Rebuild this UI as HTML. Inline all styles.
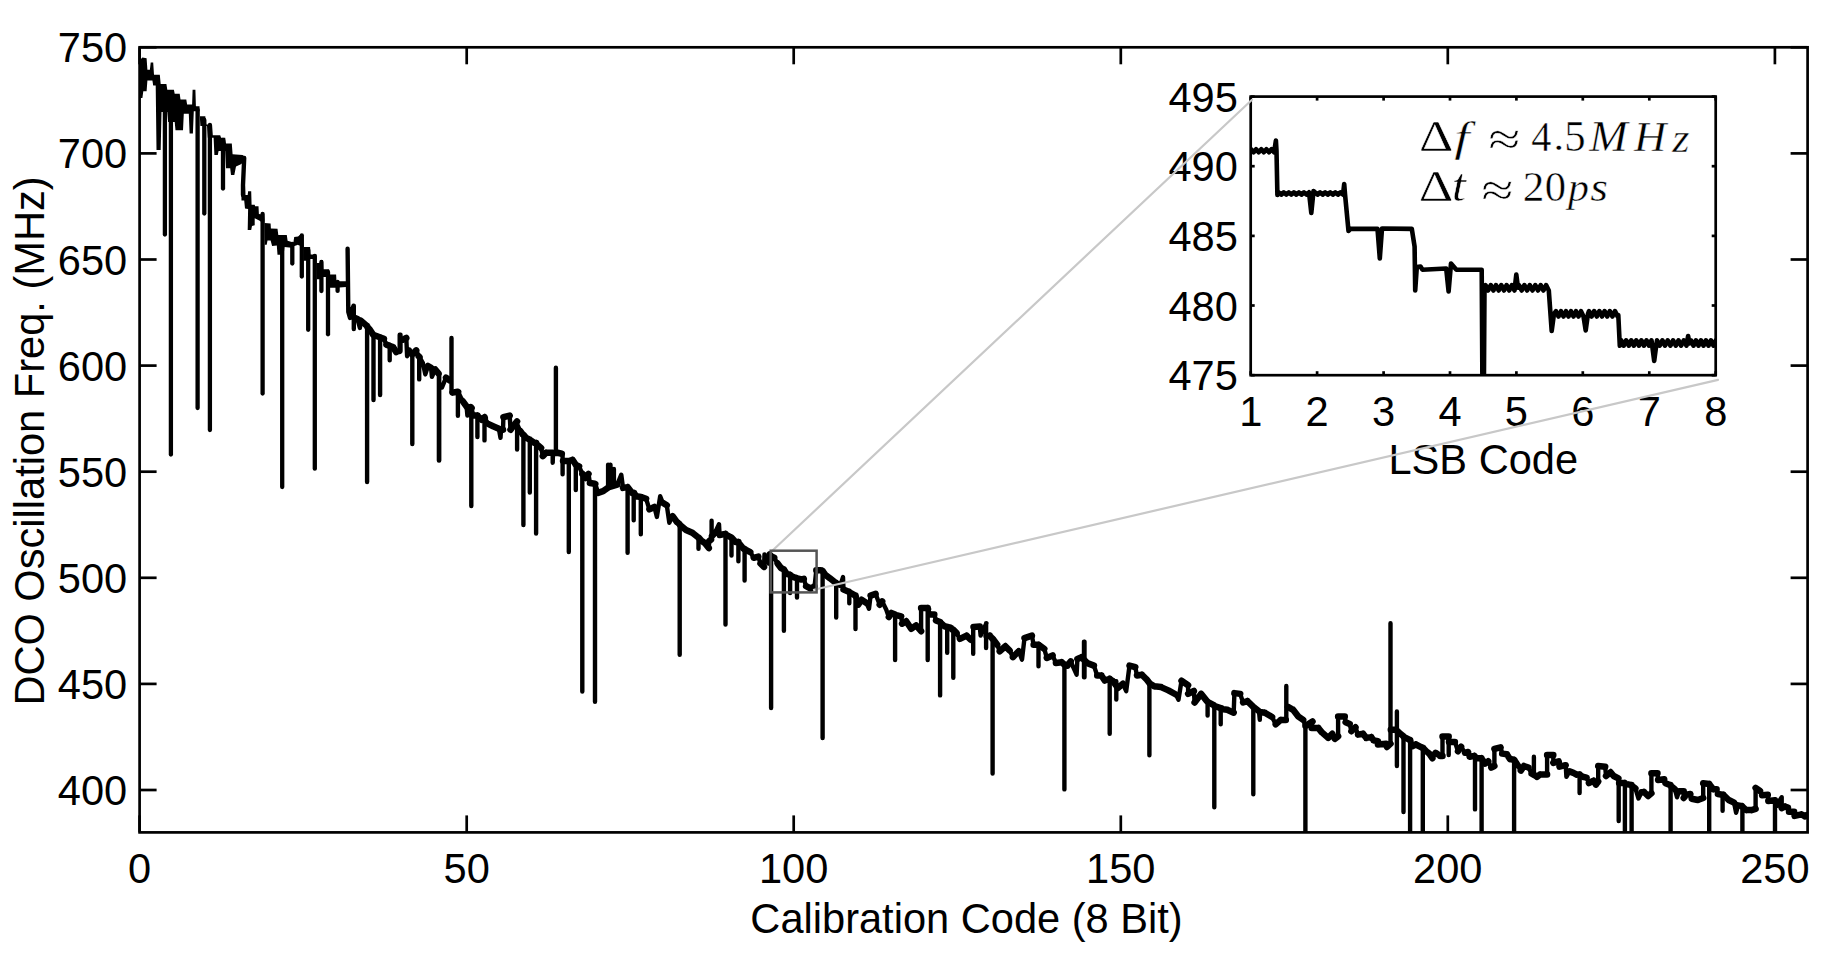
<!DOCTYPE html><html><head><meta charset="utf-8"><style>html,body{margin:0;padding:0;background:#fff;overflow:hidden}svg{display:block}</style></head><body>
<svg width="1842" height="967" viewBox="0 0 1842 967">
<rect width="1842" height="967" fill="#fff"/>
<defs><clipPath id="cm"><rect x="139.6" y="47.3" width="1668.0" height="785.1"/></clipPath></defs>
<path clip-path="url(#cm)" fill="none" stroke="#000" stroke-width="6.50" stroke-linecap="round" d=""/>
<path clip-path="url(#cm)" fill="none" stroke="#000" stroke-width="6.50" stroke-linecap="round" d="M355.0 318.0L357.4 319.0M360.8 320.6L366.6 325.6M366.6 325.6L367.1 326.0M367.1 326.0L367.4 327.0M367.4 327.0L369.9 329.7M369.9 329.7L373.2 334.7M373.2 334.7L373.8 335.0M373.8 335.0L379.8 337.2M379.8 337.2L380.4 337.5M380.4 337.5L383.9 338.8M386.4 344.6L390.0 346.0M390.0 346.0L393.0 347.1M393.0 347.1L396.3 352.1M403.0 339.7L406.3 338.0M412.1 354.5L412.6 354.0M412.6 354.0L416.2 350.4M418.7 356.2L419.5 357.0M428.0 366.0L431.1 367.8M435.2 369.4L438.5 373.6M446.0 377.7L449.3 380.2M452.6 392.6L457.6 391.8M457.6 391.8L458.2 392.0M462.5 400.9L466.6 406.5M468.0 407.0L470.8 407.3M470.8 407.3L471.6 408.0M473.2 415.6L477.4 415.6M477.4 415.6L477.7 416.0M477.7 416.0L481.5 419.7M481.5 419.7L484.5 417.2M484.5 417.2L484.8 418.0M488.1 423.9L493.1 426.3M493.1 426.3L498.9 428.8M501.0 430.0L503.0 429.7M503.4 417.2L509.7 415.6M510.5 429.7L513.0 426.3M513.0 426.3L517.1 421.4M520.4 431.3L522.9 434.6M522.9 434.6L523.7 435.0M523.7 435.0L526.2 437.9M526.2 437.9L529.8 439.6M529.8 439.6L530.1 440.0M530.1 440.0L534.5 442.9M534.5 442.9L536.1 443.0M536.1 443.0L536.4 444.0M536.4 444.0L541.1 447.9M542.8 456.1L546.1 452.8M546.1 452.8L552.7 452.8M553.0 453.0L555.9 453.0M555.9 453.0L556.2 453.0M556.2 453.0L557.6 452.8M557.6 452.8L561.8 453.7M563.0 461.0L565.9 461.1M565.9 461.1L568.7 461.0M568.7 461.0L569.1 461.0M569.1 461.0L572.5 459.8M572.5 459.8L575.8 464.8M575.8 464.8L576.1 465.0M576.1 465.0L579.1 466.4M582.3 473.9L582.6 474.0M582.6 474.0L585.7 478.0M585.7 478.0L588.5 473.9M589.9 483.0L594.8 483.8M594.8 483.8L595.3 484.0M598.1 492.9L603.1 491.2M603.1 491.2L608.9 487.1M608.9 487.1L617.2 484.6M623.0 487.9L627.6 487.1M627.6 487.1L627.9 487.5M627.9 487.5L632.1 492.9M632.1 492.9L634.0 493.0M634.0 493.0L636.2 496.2M636.2 496.2L641.0 497.0M641.0 497.0L641.2 497.0M641.2 497.0L646.1 498.7M649.4 509.4L654.4 507.0M662.7 502.8L666.8 505.3M672.6 516.1L676.8 521.9M676.8 521.9L679.4 524.0M679.4 524.0L680.0 525.0M680.0 525.0L686.0 530.0M686.0 530.0L692.3 532.8M692.3 532.8L698.0 537.3M698.0 537.3L699.0 538.0M699.0 538.0L701.4 540.7M701.4 540.7L704.8 543.0M704.8 543.0L708.8 548.1M709.2 541.0L711.0 539.6M712.0 536.0L715.0 532.8M719.6 535.0L725.3 533.9M725.3 533.9L725.5 533.9M725.5 533.9L725.8 534.5M725.8 534.5L731.0 537.3M731.0 537.3L731.9 538.0M731.9 538.0L735.5 541.9M735.5 541.9L738.4 542.0M738.4 542.0L738.8 543.0M738.8 543.0L743.5 548.7M743.5 548.7L744.6 549.0M744.6 549.0L745.0 549.5M745.0 549.5L750.3 552.1M753.7 557.8L758.3 556.6M760.5 563.5L764.0 566.9M769.6 554.4L771.1 556.0M771.1 556.0L771.4 556.5M771.4 556.5L774.2 557.8M777.6 563.5L781.0 568.0M781.0 568.0L783.3 569.2M783.3 569.2L783.9 569.5M783.9 569.5L784.2 570.0M784.2 570.0L786.7 573.7M786.7 573.7L790.1 574.9M790.1 574.9L790.4 575.5M790.4 575.5L793.5 577.1M793.5 577.1L797.0 578.3M797.0 578.3L797.3 578.5M797.3 578.5L801.5 579.5M801.5 579.5L803.8 578.8M806.1 586.2L810.6 588.5M810.6 588.5L814.6 586.2M816.3 570.3L820.8 570.3M820.8 570.3L822.6 571.0M822.6 571.0L822.9 571.5M822.9 571.5L825.4 574.9M825.4 574.9L830.0 578.3M830.0 578.3L835.6 582.8M835.6 582.8L836.2 583.0M836.2 583.0L836.5 583.5M836.5 583.5L840.5 585.0M843.5 589.6L849.3 591.9M849.3 591.9L849.6 592.5M849.6 592.5L855.0 595.3M855.0 595.3L855.5 595.5M855.5 595.5L855.8 596.5M858.2 604.7L861.5 599.7M861.5 599.7L866.5 603.0M870.6 595.6L875.6 593.9M879.7 604.7L882.2 601.4M888.8 617.1L891.3 613.0M891.3 613.0L895.1 614.6M895.1 614.6L895.4 615.0M895.4 615.0L901.2 616.3M902.1 623.7L906.2 621.2M906.2 621.2L911.2 628.7M911.2 628.7L916.1 625.4M916.1 625.4L921.1 631.2M921.1 608.0L927.7 608.0M927.7 608.0L928.0 609.0M930.2 614.6L934.3 614.6M936.0 620.4L940.1 622.1M940.1 622.1L940.4 622.5M940.4 622.5L944.3 626.2M944.3 626.2L947.5 627.0M947.5 627.0L950.9 627.9M950.9 627.9L951.7 629.0M951.7 629.0L953.6 630.0M953.6 630.0L956.6 633.1M959.9 638.9L966.6 635.6M966.6 635.6L970.7 639.7M973.5 627.0L979.8 626.5M986.6 636.0L989.7 635.6M989.7 635.6L992.6 638.9M992.6 638.9L992.9 639.0M992.9 639.0L997.2 644.7M999.7 651.3L1005.4 646.3M1005.4 646.3L1009.6 650.5M1012.9 657.1L1018.7 651.3M1024.5 638.1L1031.9 635.6M1033.6 644.7L1038.5 644.7M1038.5 644.7L1038.8 645.0M1038.8 645.0L1044.3 648.8M1046.8 657.9L1052.6 655.4M1055.9 662.9L1061.7 662.3M1061.7 662.3L1064.3 664.5M1064.3 664.5L1064.6 664.5M1064.6 664.5L1067.4 665.6M1067.4 665.6L1070.8 661.4M1077.4 659.0L1081.5 657.3M1081.5 657.3L1087.3 663.1M1087.3 663.1L1093.9 665.6M1097.2 675.5L1101.4 675.5M1101.4 675.5L1104.7 680.5M1104.7 680.5L1109.7 678.8M1109.7 678.8L1110.0 679.0M1110.0 679.0L1113.0 681.3M1113.0 681.3L1117.9 687.9M1117.9 687.9L1122.9 683.8M1129.5 665.6L1135.3 667.2M1137.0 675.5L1141.9 674.7M1141.9 674.7L1146.9 679.7M1146.9 679.7L1149.4 683.0M1149.4 683.0L1149.7 683.5M1149.7 683.5L1154.3 686.3M1154.3 686.3L1161.0 687.1M1161.0 687.1L1168.4 690.4M1168.4 690.4L1175.9 694.5M1181.5 680.8L1188.1 685.2M1188.1 693.9L1193.9 691.0M1194.6 702.5L1201.1 693.9M1201.1 693.9L1206.9 701.1M1206.9 701.1L1208.0 702.0M1208.0 702.0L1214.1 705.4M1214.1 705.4L1214.6 706.0M1214.6 706.0L1221.4 708.3M1221.4 708.3L1221.5 709.0M1221.5 709.0L1227.2 709.8M1227.2 709.8L1233.7 712.7M1234.4 693.1L1240.2 693.9M1243.1 702.5L1247.4 701.1M1247.4 701.1L1251.8 705.4M1251.8 705.4L1253.3 706.9M1253.3 706.9L1253.6 707.0M1253.6 707.0L1259.0 711.2M1260.0 712.0L1264.8 712.7M1264.8 712.7L1272.1 717.0M1275.7 724.3L1280.8 719.9M1280.8 719.9L1285.8 719.9M1288.0 706.9L1293.1 709.8M1293.1 709.8L1298.1 716.3M1298.1 716.3L1303.2 719.9M1305.4 725.7L1305.7 725.7M1305.7 725.7L1312.5 721.4M1311.7 728.0L1318.3 728.0M1318.3 728.0L1321.6 732.1M1321.6 732.1L1328.2 737.9M1328.2 737.9L1332.3 733.8M1334.8 738.8L1338.1 736.3M1338.1 716.4L1344.8 716.4M1345.6 722.2L1349.7 723.9M1351.4 731.3L1355.5 727.2M1358.0 734.6L1363.0 733.8M1363.0 733.8L1366.3 737.9M1366.3 737.9L1371.2 737.1M1371.2 737.1L1373.7 740.4M1373.7 740.4L1377.9 741.2M1377.9 744.5L1386.1 743.7M1387.0 747.0L1390.5 743.7M1390.8 729.7L1396.1 729.7M1396.1 729.7L1397.2 731.0M1397.2 731.0L1399.4 733.0M1399.4 733.0L1403.5 736.3M1403.5 736.3L1403.8 737.0M1403.8 737.0L1409.3 739.6M1409.3 739.6L1410.1 740.0M1410.1 740.0L1410.4 741.0M1412.6 746.2L1415.9 744.5M1415.9 744.5L1422.5 747.9M1422.5 747.9L1422.8 748.0M1422.8 748.0L1423.1 748.0M1423.1 748.0L1426.2 751.2M1426.2 751.2L1429.3 753.6M1429.3 753.6L1432.4 758.2M1435.5 752.8L1440.2 755.9M1440.2 755.9L1442.5 755.9M1442.5 736.5L1448.7 736.5M1449.0 742.0L1451.0 741.9M1451.0 741.9L1454.9 741.9M1458.0 751.2L1461.1 746.6M1465.0 752.8L1468.1 752.0M1469.6 756.7L1474.3 755.9M1474.3 755.9L1475.3 757.0M1475.3 757.0L1477.4 758.2M1477.4 758.2L1481.4 758.2M1481.4 758.2L1481.8 759.0M1481.8 759.0L1485.1 763.6M1485.1 763.6L1488.2 761.3M1491.3 767.5L1494.4 766.0M1494.4 748.9L1500.6 747.4M1502.2 753.6L1506.8 754.3M1506.8 754.3L1509.9 759.0M1509.9 759.0L1513.8 759.8M1513.8 759.8L1514.3 760.0M1514.3 760.0L1517.7 765.2M1520.8 770.6L1523.9 766.0M1523.9 766.0L1528.5 767.5M1531.6 773.7L1534.2 775.0M1534.2 775.0L1537.0 776.8M1537.0 776.8L1540.1 774.5M1540.1 774.5L1547.1 774.5M1547.1 755.1L1553.3 755.1M1553.3 762.9L1558.7 761.3M1559.5 766.7L1565.7 765.2M1569.5 771.4L1573.4 772.9M1573.4 772.9L1576.5 774.5M1576.5 774.5L1579.6 774.5M1579.6 774.5L1579.9 775.0M1579.9 775.0L1582.7 776.8M1582.7 776.8L1586.6 777.6M1588.9 783.0L1593.6 780.7M1593.6 780.7L1595.9 784.6M1595.9 784.6L1598.2 781.5M1598.2 766.0L1605.2 766.7M1606.0 776.0L1610.6 772.2M1610.6 772.2L1613.7 776.0M1613.7 776.0L1618.4 778.4M1619.1 783.0L1624.6 783.0M1624.6 783.0L1625.2 784.0M1625.2 784.0L1629.2 784.6M1629.2 784.6L1631.6 785.0M1631.6 785.0L1631.9 786.0M1631.9 786.0L1635.4 788.4M1641.6 792.3L1644.0 792.0M1644.0 792.0L1648.1 796.0M1648.1 796.0L1651.4 793.3M1651.4 773.2L1657.5 773.2M1658.1 779.9L1664.2 779.2M1665.5 783.2L1670.6 785.2M1670.6 785.2L1670.9 786.0M1670.9 786.0L1674.9 789.3M1679.0 791.3L1683.7 791.3M1683.7 798.0L1686.4 794.7M1686.4 794.7L1690.4 794.0M1691.7 798.7L1697.8 800.0M1697.8 800.0L1703.2 798.0M1703.2 783.2L1709.2 783.9M1709.2 783.9L1709.5 784.5M1709.5 784.5L1713.2 789.3M1713.2 789.3L1716.6 789.3M1717.9 794.0L1722.6 794.7M1722.6 794.7L1723.3 794.7M1723.3 794.7L1728.7 800.0M1728.7 800.0L1734.1 802.7M1738.1 805.4L1742.1 806.1M1742.1 806.1L1742.4 806.5M1742.4 806.5L1742.7 807.0M1742.7 807.0L1746.2 810.1M1746.2 810.1L1751.5 810.1M1751.5 810.1L1755.6 808.8M1755.6 787.9L1760.0 791.0M1762.1 795.2L1767.8 794.7M1768.3 800.9L1775.0 800.3M1775.0 800.3L1775.3 801.0M1775.3 801.0L1777.1 804.5M1781.7 808.1L1784.8 806.5M1784.8 806.5L1787.9 807.6M1789.0 811.7L1794.1 811.7M1794.6 815.9L1801.4 814.3M1801.4 814.3L1805.0 816.4M1805.0 816.4L1806.5 815.3M1806.5 815.3L1808.0 815.5"/>
<polyline clip-path="url(#cm)" fill="none" stroke="#000" stroke-width="4.4" stroke-linejoin="round" stroke-linecap="round" points="244.2,158.0 243.0,185.0 243.0,195.0"/>
<polyline clip-path="url(#cm)" fill="none" stroke="#000" stroke-width="4.4" stroke-linejoin="round" stroke-linecap="round" points="347.6,248.7 348.3,312.0 350.0,318.0 351.0,312.0 353.6,305.7 353.8,305.7 353.8,329.0 353.8,318.0 355.0,318.0 357.4,319.0 359.9,328.0 360.8,320.6 366.6,325.6 367.1,326.0 367.1,326.0 367.1,482.0 367.1,327.0 367.4,327.0 369.9,329.7 373.2,334.7 373.5,334.7 373.5,400.0 373.5,335.0 373.8,335.0 379.8,337.2 380.1,337.2 380.1,395.1 380.1,337.5 380.4,337.5 383.9,338.8 386.4,344.6 389.7,344.6 389.7,360.3 389.7,346.0 390.0,346.0 393.0,347.1 396.3,352.1 399.7,352.1 399.7,334.7 399.7,351.2 400.5,334.7 400.5,351.2 400.5,339.7 403.0,339.7 406.3,338.0 407.1,356.2 409.6,349.6 412.1,354.5 412.3,354.5 412.3,444.0 412.3,354.0 412.6,354.0 416.2,350.4 418.7,356.2 419.2,356.2 419.2,379.4 419.2,357.0 419.5,357.0 422.8,362.8 425.3,374.4 428.0,366.0 431.1,367.8 431.9,376.9 435.2,369.4 438.5,373.6 438.9,373.6 438.9,460.6 438.9,374.0 439.2,460.6 439.2,374.0 439.2,387.6 441.9,387.6 446.0,377.7 449.3,380.2 451.5,380.2 451.5,338.0 451.5,392.6 452.6,392.6 457.6,391.8 457.9,391.8 457.9,415.8 457.9,392.0 458.2,392.0 462.5,400.9 466.6,406.5 467.4,415.6 468.0,407.0 470.8,407.3 471.3,407.3 471.3,506.0 471.3,408.0 471.6,408.0 473.2,415.6 477.4,415.6 477.4,415.6 477.4,437.1 477.4,416.0 477.7,416.0 481.5,419.7 484.5,417.2 484.5,417.2 484.5,440.4 484.5,418.0 484.8,418.0 488.1,423.9 493.1,426.3 498.9,428.8 500.5,437.9 501.0,430.0 503.0,429.7 503.4,417.2 509.7,415.6 510.5,429.7 513.0,426.3 517.1,421.4 517.1,421.4 517.1,449.5 517.1,425.0 517.5,425.0 520.4,431.3 522.9,434.6 523.4,434.6 523.4,525.0 523.4,435.0 523.7,435.0 526.2,437.9 529.8,439.6 529.8,439.6 529.8,492.5 529.8,440.0 530.1,440.0 534.5,442.9 536.1,443.0 536.1,443.0 536.1,533.5 536.1,444.0 536.4,444.0 541.1,447.9 542.8,456.1 546.1,452.8 552.7,452.8 552.7,462.8 553.0,453.0 555.9,453.0 555.9,453.0 555.9,367.8 555.9,453.0 556.2,453.0 557.6,452.8 561.8,453.7 562.6,453.7 562.6,474.3 562.6,461.0 563.0,461.0 565.9,461.1 568.7,461.0 568.8,461.0 568.8,552.0 568.8,461.0 569.1,461.0 572.5,459.8 575.8,464.8 575.8,464.8 575.8,490.0 575.8,465.0 576.1,465.0 579.1,466.4 582.3,473.9 582.3,473.9 582.3,691.5 582.3,474.0 582.6,474.0 585.7,478.0 588.5,473.9 589.9,483.0 594.8,483.8 595.0,483.8 595.0,701.7 595.0,484.0 595.3,484.0 598.1,492.9 603.1,491.2 608.9,487.1 608.1,487.1 608.1,464.8 608.1,483.0 610.5,464.8 610.5,483.0 610.5,468.9 613.9,483.0 613.9,468.9 613.9,484.6 617.2,484.6 621.3,474.7 623.0,487.9 627.6,487.1 627.6,487.1 627.6,552.8 627.6,487.5 627.9,487.5 632.1,492.9 633.7,492.9 633.7,520.2 633.7,493.0 634.0,493.0 636.2,496.2 641.0,497.0 640.8,497.0 640.8,534.3 640.8,497.0 641.2,497.0 646.1,498.7 649.4,509.4 654.4,507.0 656.9,516.9 660.2,496.2 662.7,502.8 666.8,505.3 669.3,522.7 672.6,516.1 676.8,521.9 679.4,524.0 679.7,524.0 679.7,654.8 679.7,525.0 680.0,525.0 686.0,530.0 692.3,532.8 698.0,537.3 698.5,537.3 698.5,548.7 698.5,538.0 699.0,538.0 701.4,540.7 704.8,543.0 708.8,548.1 709.2,541.0 711.0,539.6 711.6,539.6 711.6,520.8 711.6,536.0 712.0,536.0 715.0,532.8 719.0,524.2 719.6,535.0 725.3,533.9 725.5,533.9 725.5,533.9 725.5,624.5 725.5,534.5 725.8,534.5 731.0,537.3 731.5,537.3 731.5,555.5 731.5,538.0 731.9,538.0 735.5,541.9 738.4,542.0 738.4,542.0 738.4,561.2 738.4,543.0 738.8,543.0 743.5,548.7 744.6,549.0 744.6,549.0 744.6,580.5 744.6,549.5 745.0,549.5 750.3,552.1 753.7,557.8 758.3,556.6 760.5,563.5 764.0,566.9 764.5,554.4 768.5,563.5 769.6,554.4 771.1,556.0 771.1,556.0 771.1,708.0 771.1,556.5 771.4,556.5 774.2,557.8 777.6,563.5 781.0,568.0 783.3,569.2 783.9,569.5 783.9,569.5 783.9,630.7 783.9,570.0 784.2,570.0 786.7,573.7 790.1,574.9 790.1,574.9 790.1,593.0 790.1,575.5 790.4,575.5 793.5,577.1 797.0,578.3 797.0,578.3 797.0,597.6 797.0,578.5 797.3,578.5 801.5,579.5 803.8,578.8 806.1,586.2 810.6,588.5 814.6,586.2 816.3,570.3 820.8,570.3 822.6,571.0 822.6,571.0 822.6,738.0 822.6,571.5 822.9,571.5 825.4,574.9 830.0,578.3 835.6,582.8 836.2,583.0 836.2,583.0 836.2,617.5 836.2,583.5 836.5,583.5 840.5,585.0 843.0,577.1 843.5,589.6 849.3,591.9 849.3,591.9 849.3,603.3 849.3,592.5 849.6,592.5 855.0,595.3 855.5,595.5 855.5,595.5 855.5,629.0 855.5,596.5 855.8,596.5 858.2,604.7 861.5,599.7 866.5,603.0 869.0,608.8 870.6,595.6 875.6,593.9 879.7,604.7 882.2,601.4 886.3,609.7 888.8,617.1 891.3,613.0 895.1,614.6 895.1,614.6 895.1,660.1 895.1,615.0 895.4,615.0 901.2,616.3 902.1,623.7 906.2,621.2 911.2,628.7 916.1,625.4 921.1,631.2 921.1,608.0 927.7,608.0 927.7,608.0 927.7,660.1 927.7,609.0 928.0,609.0 930.2,614.6 934.3,614.6 936.0,620.4 940.1,622.1 940.1,622.1 940.1,695.4 940.1,622.5 940.4,622.5 944.3,626.2 947.2,626.2 947.2,652.7 947.2,627.0 947.5,627.0 950.9,627.9 951.7,629.0 953.3,629.0 953.3,677.8 953.3,630.0 953.6,630.0 956.6,633.1 959.9,638.9 966.6,635.6 970.7,639.7 973.2,639.7 973.2,626.5 973.2,653.8 973.2,626.5 973.2,653.8 973.2,627.0 973.5,627.0 979.8,626.5 980.6,635.6 986.4,623.2 986.1,623.2 986.1,648.0 986.1,636.0 986.6,636.0 989.7,635.6 992.6,638.9 992.6,638.9 992.6,773.5 992.6,639.0 992.9,639.0 997.2,644.7 999.7,651.3 1005.4,646.3 1009.6,650.5 1012.9,657.1 1018.7,651.3 1022.0,659.6 1024.5,638.1 1031.9,635.6 1033.6,644.7 1038.5,644.7 1038.5,644.7 1038.5,666.2 1038.5,645.0 1038.8,645.0 1044.3,648.8 1046.8,657.9 1052.6,655.4 1055.9,662.9 1061.7,662.3 1064.3,664.5 1064.4,664.5 1064.4,789.4 1064.4,664.5 1064.6,664.5 1067.4,665.6 1070.8,661.4 1073.2,667.2 1076.6,674.7 1077.4,659.0 1081.5,657.3 1084.5,657.3 1084.5,641.6 1084.5,677.2 1084.0,641.6 1084.0,677.2 1084.0,663.1 1087.3,663.1 1093.9,665.6 1097.2,675.5 1101.4,675.5 1104.7,680.5 1109.7,678.8 1109.7,678.8 1109.7,733.8 1109.7,679.0 1110.0,679.0 1113.0,681.3 1116.3,681.3 1116.3,699.5 1116.3,687.9 1117.9,687.9 1122.9,683.8 1126.2,691.2 1129.5,665.6 1135.3,667.2 1137.0,675.5 1141.9,674.7 1146.9,679.7 1149.4,683.0 1149.4,683.0 1149.4,755.3 1149.4,683.5 1149.7,683.5 1154.3,686.3 1161.0,687.1 1168.4,690.4 1175.9,694.5 1178.5,699.7 1181.5,680.8 1188.1,685.2 1188.1,693.9 1193.9,691.0 1194.6,702.5 1201.1,693.9 1206.9,701.1 1207.6,701.1 1207.6,715.6 1207.6,702.0 1208.0,702.0 1214.1,705.4 1214.3,705.4 1214.3,807.2 1214.3,706.0 1214.6,706.0 1221.4,708.3 1220.7,708.3 1220.7,724.3 1220.7,709.0 1221.5,709.0 1227.2,709.8 1233.7,712.7 1234.4,693.1 1240.2,693.9 1243.1,702.5 1247.4,701.1 1251.8,705.4 1253.3,706.9 1253.3,706.9 1253.3,794.2 1253.3,707.0 1253.6,707.0 1259.0,711.2 1259.8,719.9 1260.0,712.0 1264.8,712.7 1272.1,717.0 1275.7,724.3 1280.8,719.9 1285.8,719.9 1286.3,719.9 1286.3,685.9 1286.3,706.9 1288.0,706.9 1293.1,709.8 1298.1,716.3 1303.2,719.9 1305.4,725.7 1305.4,725.7 1305.4,845.0 1305.4,725.7 1305.7,725.7 1312.5,721.4 1311.7,728.0 1318.3,728.0 1321.6,732.1 1328.2,737.9 1332.3,733.8 1334.8,738.8 1338.1,736.3 1338.1,716.4 1344.8,716.4 1345.6,722.2 1349.7,723.9 1351.4,731.3 1355.5,727.2 1358.0,734.6 1363.0,733.8 1366.3,737.9 1371.2,737.1 1373.7,740.4 1377.9,741.2 1377.9,744.5 1386.1,743.7 1387.0,747.0 1390.5,743.7 1390.5,743.7 1390.5,623.3 1390.5,729.7 1390.8,729.7 1396.1,729.7 1396.9,729.7 1396.9,711.4 1396.9,766.1 1396.9,711.4 1396.9,766.1 1396.9,731.0 1397.2,731.0 1399.4,733.0 1403.5,736.3 1403.5,736.3 1403.5,812.0 1403.5,737.0 1403.8,737.0 1409.3,739.6 1410.1,740.0 1410.1,740.0 1410.1,845.0 1410.1,741.0 1410.4,741.0 1412.6,746.2 1415.9,744.5 1422.5,747.9 1422.8,748.0 1422.8,748.0 1422.8,845.0 1422.8,748.0 1423.1,748.0 1426.2,751.2 1429.3,753.6 1432.4,758.2 1435.5,752.8 1440.2,755.9 1442.5,755.9 1442.5,736.5 1448.7,736.5 1448.7,736.5 1448.7,755.1 1448.7,742.0 1449.0,742.0 1451.0,741.9 1454.9,741.9 1458.0,751.2 1461.1,746.6 1465.0,752.8 1468.1,752.0 1469.6,756.7 1474.3,755.9 1475.0,755.9 1475.0,809.4 1475.0,757.0 1475.3,757.0 1477.4,758.2 1481.4,758.2 1481.6,758.2 1481.6,845.0 1481.6,759.0 1481.8,759.0 1485.1,763.6 1488.2,761.3 1491.3,767.5 1494.4,766.0 1494.4,748.9 1500.6,747.4 1502.2,753.6 1506.8,754.3 1509.9,759.0 1513.8,759.8 1514.1,759.8 1514.1,845.0 1514.1,760.0 1514.3,760.0 1517.7,765.2 1520.8,770.6 1523.9,766.0 1528.5,767.5 1531.6,773.7 1533.9,773.7 1533.9,756.7 1533.9,775.0 1534.2,775.0 1537.0,776.8 1540.1,774.5 1547.1,774.5 1547.1,755.1 1553.3,755.1 1553.3,762.9 1558.7,761.3 1559.5,766.7 1565.7,765.2 1566.4,776.8 1569.5,771.4 1573.4,772.9 1576.5,774.5 1579.6,774.5 1579.6,774.5 1579.6,793.1 1579.6,775.0 1579.9,775.0 1582.7,776.8 1586.6,777.6 1588.9,783.0 1593.6,780.7 1595.9,784.6 1598.2,781.5 1598.2,766.0 1605.2,766.7 1606.0,776.0 1610.6,772.2 1613.7,776.0 1618.4,778.4 1618.7,778.4 1618.7,821.0 1618.7,783.0 1619.1,783.0 1624.6,783.0 1624.9,783.0 1624.9,845.0 1624.9,784.0 1625.2,784.0 1629.2,784.6 1631.6,785.0 1631.6,785.0 1631.6,845.0 1631.6,786.0 1631.9,786.0 1635.4,788.4 1638.5,798.5 1641.6,792.3 1644.0,792.0 1648.1,796.0 1651.4,793.3 1651.4,773.2 1657.5,773.2 1658.1,779.9 1664.2,779.2 1665.5,783.2 1670.6,785.2 1670.6,785.2 1670.6,845.0 1670.6,786.0 1670.9,786.0 1674.9,789.3 1677.0,797.3 1679.0,791.3 1683.7,791.3 1683.7,798.0 1686.4,794.7 1690.4,794.0 1691.7,798.7 1697.8,800.0 1703.2,798.0 1703.2,783.2 1709.2,783.9 1709.2,783.9 1709.2,845.0 1709.2,784.5 1709.5,784.5 1713.2,789.3 1716.6,789.3 1717.9,794.0 1722.6,794.7 1722.6,794.7 1722.6,810.8 1722.6,794.7 1723.3,794.7 1728.7,800.0 1734.1,802.7 1736.1,812.8 1738.1,805.4 1742.1,806.1 1742.4,806.5 1742.4,806.5 1742.4,845.0 1742.4,807.0 1742.7,807.0 1746.2,810.1 1751.5,810.1 1755.6,808.8 1755.6,787.9 1760.0,791.0 1762.1,795.2 1767.8,794.7 1768.3,800.9 1775.0,800.3 1775.0,800.3 1775.0,845.0 1775.0,801.0 1775.3,801.0 1777.1,804.5 1781.7,797.2 1781.7,808.1 1784.8,806.5 1787.9,807.6 1789.0,811.7 1794.1,811.7 1794.6,815.9 1801.4,814.3 1805.0,816.4 1806.5,815.3 1808.0,815.5"/>
<polygon clip-path="url(#cm)" fill="#000" points="140.0,59.9 142.4,57.4 146.6,58.2 147.4,69.8 149.9,69.8 150.7,62.4 153.2,62.4 154.0,74.8 159.8,74.8 160.7,83.9 166.4,83.9 167.3,89.7 173.9,89.7 174.7,93.8 179.7,93.8 180.5,99.6 186.3,99.6 187.1,104.6 192.1,104.6 192.6,89.7 195.4,89.7 195.9,106.2 199.5,106.2 200.0,116.2 205.3,116.2 206.2,124.4 212.0,124.4 212.8,135.2 220.2,135.2 221.1,137.7 225.2,137.7 226.0,143.5 231.8,143.5 232.6,154.2 242.6,155.0 245.1,156.7 245.1,160.9 240.9,164.2 236.0,166.6 234.3,174.9 231.0,174.9 230.2,168.3 226.0,168.3 225.2,150.9 218.6,150.9 217.8,155.1 214.4,155.1 213.6,137.7 207.8,137.7 207.0,126.1 200.4,126.1 199.5,111.2 193.8,111.2 192.9,133.5 189.6,133.5 188.8,113.7 183.8,113.7 183.0,130.2 175.5,130.2 174.7,122.0 168.1,122.0 167.3,112.0 161.5,112.0 160.7,150.1 156.5,150.1 155.7,85.5 153.2,85.5 152.4,80.6 147.4,80.6 146.6,91.3 143.3,91.3 142.4,98.0 140.0,98.0"/>
<polygon clip-path="url(#cm)" fill="#000" points="241.1,185.0 245.0,185.0 245.4,195.1 247.7,195.1 248.1,191.2 251.2,191.2 251.6,204.8 254.7,204.8 255.1,206.3 258.5,206.3 258.9,214.1 264.0,214.8 264.7,223.0 270.6,223.4 270.9,228.4 277.5,228.8 278.3,235.0 286.8,235.0 287.6,240.8 293.4,242.4 294.2,236.9 298.0,236.6 298.0,244.7 293.8,246.2 291.5,247.8 284.5,247.0 283.7,254.8 277.5,254.8 276.8,245.5 272.1,245.9 270.6,240.4 267.5,240.4 266.7,244.7 264.7,244.7 264.4,221.4 260.5,221.4 259.7,220.7 254.7,218.3 254.7,225.3 252.0,226.1 251.2,230.0 247.7,230.0 248.1,209.0 245.0,208.6 244.2,200.5 241.5,200.5"/>
<polygon clip-path="url(#cm)" fill="#000" points="298.0,236.6 301.0,234.0 303.0,236.0 303.5,246.0 304.0,247.1 310.1,247.1 310.6,254.5 316.3,254.5 316.5,263.0 319.8,263.0 320.0,259.9 323.0,259.9 323.4,269.2 329.1,269.2 329.5,274.6 336.1,274.6 336.5,281.2 346.2,281.2 346.2,287.0 336.1,287.8 329.9,287.8 329.5,277.0 322.9,277.0 322.6,279.3 317.0,279.3 316.5,259.1 310.1,259.1 309.8,260.7 303.5,260.7 303.5,246.5 301.0,246.0 298.0,245.0"/>
<g clip-path="url(#cm)" stroke="#000" stroke-width="4.3" stroke-linecap="round">
<line x1="164.9" y1="100.0" x2="164.9" y2="234.5"/>
<line x1="170.9" y1="100.0" x2="170.9" y2="454.5"/>
<line x1="197.6" y1="110.0" x2="197.6" y2="408.0"/>
<line x1="204.3" y1="120.0" x2="204.3" y2="213.5"/>
<line x1="209.9" y1="125.0" x2="209.9" y2="430.0"/>
<line x1="223.0" y1="140.0" x2="223.0" y2="188.5"/>
<line x1="262.6" y1="214.0" x2="262.6" y2="393.5"/>
<line x1="282.2" y1="240.0" x2="282.2" y2="487.0"/>
<line x1="292.3" y1="244.0" x2="292.3" y2="263.5"/>
<line x1="301.8" y1="235.5" x2="301.8" y2="276.5"/>
<line x1="308.2" y1="250.0" x2="308.2" y2="329.8"/>
<line x1="314.8" y1="256.0" x2="314.8" y2="468.7"/>
<line x1="321.4" y1="262.0" x2="321.4" y2="291.0"/>
<line x1="328.0" y1="272.0" x2="328.0" y2="334.3"/>
<line x1="337.6" y1="282.0" x2="337.6" y2="290.9"/>
</g>
<g stroke="#000" stroke-width="2.7" fill="none">
<rect x="139.6" y="47.3" width="1668.0" height="785.1"/>
<line x1="139.6" y1="832.4" x2="139.6" y2="815.4"/>
<line x1="139.6" y1="47.3" x2="139.6" y2="64.3"/>
<line x1="466.7" y1="832.4" x2="466.7" y2="815.4"/>
<line x1="466.7" y1="47.3" x2="466.7" y2="64.3"/>
<line x1="793.7" y1="832.4" x2="793.7" y2="815.4"/>
<line x1="793.7" y1="47.3" x2="793.7" y2="64.3"/>
<line x1="1120.8" y1="832.4" x2="1120.8" y2="815.4"/>
<line x1="1120.8" y1="47.3" x2="1120.8" y2="64.3"/>
<line x1="1447.8" y1="832.4" x2="1447.8" y2="815.4"/>
<line x1="1447.8" y1="47.3" x2="1447.8" y2="64.3"/>
<line x1="1774.9" y1="832.4" x2="1774.9" y2="815.4"/>
<line x1="1774.9" y1="47.3" x2="1774.9" y2="64.3"/>
<line x1="139.6" y1="790.0" x2="156.6" y2="790.0"/>
<line x1="1807.6" y1="790.0" x2="1790.6" y2="790.0"/>
<line x1="139.6" y1="683.9" x2="156.6" y2="683.9"/>
<line x1="1807.6" y1="683.9" x2="1790.6" y2="683.9"/>
<line x1="139.6" y1="577.8" x2="156.6" y2="577.8"/>
<line x1="1807.6" y1="577.8" x2="1790.6" y2="577.8"/>
<line x1="139.6" y1="471.7" x2="156.6" y2="471.7"/>
<line x1="1807.6" y1="471.7" x2="1790.6" y2="471.7"/>
<line x1="139.6" y1="365.6" x2="156.6" y2="365.6"/>
<line x1="1807.6" y1="365.6" x2="1790.6" y2="365.6"/>
<line x1="139.6" y1="259.5" x2="156.6" y2="259.5"/>
<line x1="1807.6" y1="259.5" x2="1790.6" y2="259.5"/>
<line x1="139.6" y1="153.4" x2="156.6" y2="153.4"/>
<line x1="1807.6" y1="153.4" x2="1790.6" y2="153.4"/>
<line x1="139.6" y1="47.3" x2="156.6" y2="47.3"/>
<line x1="1807.6" y1="47.3" x2="1790.6" y2="47.3"/>
</g>
<g font-family="Liberation Sans" font-size="41.6" fill="#000">
<text x="139.6" y="883" text-anchor="middle">0</text>
<text x="466.7" y="883" text-anchor="middle">50</text>
<text x="793.7" y="883" text-anchor="middle">100</text>
<text x="1120.8" y="883" text-anchor="middle">150</text>
<text x="1447.8" y="883" text-anchor="middle">200</text>
<text x="1774.9" y="883" text-anchor="middle">250</text>
<text x="127.2" y="805.0" text-anchor="end">400</text>
<text x="127.2" y="698.9" text-anchor="end">450</text>
<text x="127.2" y="592.8" text-anchor="end">500</text>
<text x="127.2" y="486.7" text-anchor="end">550</text>
<text x="127.2" y="380.6" text-anchor="end">600</text>
<text x="127.2" y="274.5" text-anchor="end">650</text>
<text x="127.2" y="168.4" text-anchor="end">700</text>
<text x="127.2" y="62.3" text-anchor="end">750</text>
<text x="966.5" y="933" text-anchor="middle">Calibration Code (8 Bit)</text>
<text transform="translate(44.3,441.0) rotate(-90)" text-anchor="middle">DCO Oscillation Freq. (MHz)</text>
</g>
<rect x="1250.7" y="96.6" width="465.0" height="278.6" fill="#fff"/>
<defs><clipPath id="ci"><rect x="1250.7" y="96.6" width="465.0" height="278.6"/></clipPath></defs>
<polyline clip-path="url(#ci)" fill="none" stroke="#000" stroke-width="4.6" stroke-linejoin="round" stroke-linecap="round" points="1251.0,149.2 1253.6,152.2 1256.1,149.2 1258.7,152.2 1261.3,149.2 1263.8,152.2 1266.4,149.2 1269.0,152.2 1271.5,149.2 1274.1,152.2 1275.9,140.5 1276.5,151.0 1277.4,195.0 1278.7,192.3 1281.2,194.7 1283.8,192.3 1286.3,194.7 1288.8,192.3 1291.3,194.7 1293.8,192.3 1296.4,194.7 1298.9,192.3 1301.4,194.7 1304.0,192.3 1306.5,194.7 1309.0,192.3 1311.3,213.0 1313.5,191.0 1315.0,192.3 1317.5,194.7 1320.1,192.3 1322.6,194.7 1325.2,192.3 1327.7,194.7 1330.3,192.3 1332.8,194.7 1335.4,192.3 1337.9,194.7 1340.5,192.3 1343.0,194.7 1344.2,184.0 1345.0,194.0 1348.5,231.0 1350.4,228.9 1377.5,228.9 1379.8,258.5 1382.0,228.5 1411.8,228.9 1414.6,246.6 1415.2,290.5 1416.8,267.0 1420.5,266.5 1422.4,269.7 1446.2,268.5 1448.6,291.5 1451.0,263.5 1456.4,269.7 1481.7,269.7 1482.4,382.0 1483.9,382.0 1484.5,288.0 1485.5,285.1 1488.1,290.5 1490.8,285.1 1493.4,290.5 1496.0,285.1 1498.7,290.5 1501.3,285.1 1504.0,290.5 1506.6,285.1 1509.2,290.5 1511.9,285.1 1514.5,290.5 1516.3,274.5 1518.0,287.8 1519.0,285.1 1521.7,290.5 1524.4,285.1 1527.1,290.5 1529.8,285.1 1532.5,290.5 1535.3,285.1 1538.0,290.5 1540.7,285.1 1543.4,290.5 1546.1,285.1 1548.8,290.5 1551.7,331.0 1554.0,313.8 1556.0,311.1 1558.5,316.5 1561.0,311.1 1563.5,316.5 1566.0,311.1 1568.5,316.5 1571.0,311.1 1573.5,316.5 1576.0,311.1 1578.5,316.5 1581.0,311.1 1583.5,316.5 1585.7,330.5 1588.0,313.8 1589.0,311.1 1591.6,316.5 1594.2,311.1 1596.8,316.5 1599.4,311.1 1602.0,316.5 1604.6,311.1 1607.2,316.5 1609.8,311.1 1612.4,316.5 1615.0,311.1 1617.6,316.5 1618.3,315.0 1619.8,345.8 1621.2,340.3 1623.7,345.7 1626.2,340.3 1628.8,345.7 1631.3,340.3 1633.8,345.7 1636.3,340.3 1638.9,345.7 1641.4,340.3 1643.9,345.7 1646.5,340.3 1649.0,345.7 1651.5,340.3 1654.2,361.0 1656.5,343.5 1657.0,340.3 1659.7,345.7 1662.4,340.3 1665.0,345.7 1667.7,340.3 1670.4,345.7 1673.1,340.3 1675.8,345.7 1678.5,340.3 1681.1,345.7 1683.8,340.3 1686.5,345.7 1688.1,336.0 1689.5,343.5 1691.0,340.3 1693.5,345.7 1696.0,340.3 1698.5,345.7 1701.0,340.3 1703.5,345.7 1706.0,340.3 1708.5,345.7 1711.0,340.3 1713.5,345.7 1716.0,340.3"/>
<g stroke="#000" stroke-width="2.7" fill="none">
<rect x="1250.7" y="96.6" width="465.0" height="278.6"/>
<line x1="1250.7" y1="375.2" x2="1250.7" y2="371.2"/>
<line x1="1250.7" y1="96.6" x2="1250.7" y2="100.6"/>
<line x1="1317.1" y1="375.2" x2="1317.1" y2="371.2"/>
<line x1="1317.1" y1="96.6" x2="1317.1" y2="100.6"/>
<line x1="1383.6" y1="375.2" x2="1383.6" y2="371.2"/>
<line x1="1383.6" y1="96.6" x2="1383.6" y2="100.6"/>
<line x1="1450.0" y1="375.2" x2="1450.0" y2="371.2"/>
<line x1="1450.0" y1="96.6" x2="1450.0" y2="100.6"/>
<line x1="1516.4" y1="375.2" x2="1516.4" y2="371.2"/>
<line x1="1516.4" y1="96.6" x2="1516.4" y2="100.6"/>
<line x1="1582.8" y1="375.2" x2="1582.8" y2="371.2"/>
<line x1="1582.8" y1="96.6" x2="1582.8" y2="100.6"/>
<line x1="1649.3" y1="375.2" x2="1649.3" y2="371.2"/>
<line x1="1649.3" y1="96.6" x2="1649.3" y2="100.6"/>
<line x1="1715.7" y1="375.2" x2="1715.7" y2="371.2"/>
<line x1="1715.7" y1="96.6" x2="1715.7" y2="100.6"/>
<line x1="1250.7" y1="375.2" x2="1254.7" y2="375.2"/>
<line x1="1715.7" y1="375.2" x2="1711.7" y2="375.2"/>
<line x1="1250.7" y1="305.5" x2="1254.7" y2="305.5"/>
<line x1="1715.7" y1="305.5" x2="1711.7" y2="305.5"/>
<line x1="1250.7" y1="235.9" x2="1254.7" y2="235.9"/>
<line x1="1715.7" y1="235.9" x2="1711.7" y2="235.9"/>
<line x1="1250.7" y1="166.2" x2="1254.7" y2="166.2"/>
<line x1="1715.7" y1="166.2" x2="1711.7" y2="166.2"/>
<line x1="1250.7" y1="96.6" x2="1254.7" y2="96.6"/>
<line x1="1715.7" y1="96.6" x2="1711.7" y2="96.6"/>
</g>
<g font-family="Liberation Sans" font-size="41.6" fill="#000">
<text x="1250.7" y="425.7" text-anchor="middle">1</text>
<text x="1317.1" y="425.7" text-anchor="middle">2</text>
<text x="1383.6" y="425.7" text-anchor="middle">3</text>
<text x="1450.0" y="425.7" text-anchor="middle">4</text>
<text x="1516.4" y="425.7" text-anchor="middle">5</text>
<text x="1582.8" y="425.7" text-anchor="middle">6</text>
<text x="1649.3" y="425.7" text-anchor="middle">7</text>
<text x="1715.7" y="425.7" text-anchor="middle">8</text>
<text x="1237.8" y="390.2" text-anchor="end">475</text>
<text x="1237.8" y="320.5" text-anchor="end">480</text>
<text x="1237.8" y="250.9" text-anchor="end">485</text>
<text x="1237.8" y="181.2" text-anchor="end">490</text>
<text x="1237.8" y="111.6" text-anchor="end">495</text>
<text x="1483.3" y="474.1" text-anchor="middle">LSB Code</text>
</g>
<g font-family="Liberation Serif" font-size="42" fill="#000" stroke="#fff" stroke-width="0.45">
<text transform="translate(1418.96,150.70) scale(1.2727,1.0760)">Δ</text>
<text transform="translate(1454.35,151.06) scale(1.3095,0.9914)" font-style="italic">f</text>
<text transform="translate(1488.14,155.22) scale(1.3938,1.1197)">≈</text>
<text transform="translate(1531.20,151.11) scale(0.9575,1.0220)">4</text>
<text transform="translate(1553.23,150.23) scale(1.0516,0.9110)">.</text>
<text transform="translate(1564.13,151.17) scale(1.0179,1.0347)">5</text>
<text transform="translate(1589.16,150.80) scale(1.0995,1.0293)" font-style="italic">M</text>
<text transform="translate(1633.95,150.80) scale(1.0630,1.0214)" font-style="italic">H</text>
<text transform="translate(1672.14,151.60) scale(1.0575,1.0093)" font-style="italic">z</text>
<text transform="translate(1418.85,200.80) scale(1.2811,1.0723)">Δ</text>
<text transform="translate(1451.80,201.43) scale(1.2190,1.1111)" font-style="italic">t</text>
<text transform="translate(1481.14,205.52) scale(1.3988,1.1197)">≈</text>
<text transform="translate(1522.75,200.80) scale(1.0298,0.9993)">2</text>
<text transform="translate(1544.70,201.47) scale(1.0147,1.0159)">0</text>
<text transform="translate(1567.91,200.60) scale(0.9973,0.9524)" font-style="italic">p</text>
<text transform="translate(1590.22,201.48) scale(1.0835,0.9970)" font-style="italic">s</text>
</g>
<g fill="none" stroke-linecap="round">
<line x1="772" y1="551" x2="1252" y2="99.8" stroke="#c8c8c8" stroke-width="2.2"/>
<line x1="814" y1="589.7" x2="1718" y2="379.9" stroke="#c8c8c8" stroke-width="2.2"/>
<rect x="770.7" y="550.7" width="45.9" height="41.7" stroke="#555" stroke-width="2.5"/>
</g>
</svg></body></html>
